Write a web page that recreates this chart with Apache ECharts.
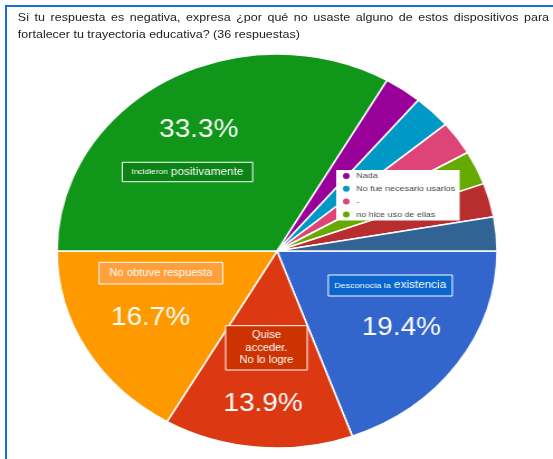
<!DOCTYPE html>
<html><head><meta charset="utf-8">
<script src="https://cdn.jsdelivr.net/npm/echarts@6/dist/echarts.min.js"></script>
<style>
html,body{margin:0;padding:0;background:#fff;width:553px;height:459px;overflow:hidden;}
#frame{position:absolute;left:5px;top:5px;width:560px;height:470px;border-left:2px solid #1a6fd6;border-top:2px solid #1a6fd6;}
#wrap{position:absolute;left:0;top:0;width:495px;height:459px;transform:scaleX(1.117);transform-origin:0 0;}
#chart{position:absolute;left:0;top:0;width:495px;height:459px;}
#title{position:absolute;left:16px;top:8.5px;width:475.5px;font:11.2px/17px 'Liberation Sans',Arial,sans-serif;color:#222;}
#t1{text-align:justify;text-align-last:justify;white-space:nowrap;}
</style></head><body>
<div id="frame"></div>
<div id="wrap"><div id="chart"></div>
<div id="title"><div id="t1"></div><div id="t2"></div></div></div>
<script>
const titleLines = ['Si tu respuesta es negativa, expresa ¿por qué no usaste alguno de estos dispositivos para',
                    'fortalecer tu trayectoria educativa? (36 respuestas)'];
const categories = ['Desconocía la existencia','Quise acceder. No lo logre','No obtuve respuesta',
  'Incidieron positivamente','Nada','No fue necesario usarlos','-','no hice uso de ellas','Otro motivo','Otra respuesta'];
const values = [7,5,6,12,1,1,1,1,1,1];
const legendItems = ['Nada','No fue necesario usarlos','-','no hice uso de ellas'];
const palette = ['#3366cc','#dc3912','#ff9900','#109618','#990099','#0099c6','#dd4477','#66aa00','#b82e2e','#316395'];

// title
document.getElementById('t1').textContent = titleLines[0];
document.getElementById('t2').textContent = titleLines[1];

const total = values.reduce((a,b)=>a+b,0);
const pct = i => (values[i]/total*100).toFixed(1) + '%';
const FONT = "'Liberation Sans', Arial, sans-serif";

function pctText(i, x, y){
  return {type:'text', x:x, y:y, z:100, silent:true,
    style:{text:pct(i), fill:'#fff', fontSize:25, fontFamily:FONT, align:'center', verticalAlign:'middle'}};
}
function box(x,y,w,h,fill,text,rich){
  return [
    {type:'rect', z:100, silent:true, shape:{x:x,y:y,width:w,height:h}, style:{fill:fill, stroke:'#fff', lineWidth:1}},
    {type:'text', z:101, silent:true, x:x+w/2, y:y+h/2,
      style:{text:text, fill:'#fff', fontSize:10, fontFamily:FONT, align:'center', verticalAlign:'middle', lineHeight:12.5, rich:rich}}
  ];
}
const words = s => s.split(' ');
const c0 = words(categories[0]), c1 = words(categories[1]), c3 = words(categories[3]);

const graphics = [].concat(
  box(109.5,162.3,116.7,19.4,'#0b8214', '{s|'+c3[0]+'} {l|'+c3[1]+'}',
      {s:{fontSize:7.5,fill:'#fff',fontFamily:FONT}, l:{fontSize:10.5,fill:'#fff',fontFamily:FONT}}),
  box(88.6,262.3,110.8,21.7,'#ffa03c', categories[2], null),
  box(293.9,275,111,21,'#0a66cc', '{s|'+c0[0]+' '+c0[1]+'} {l|'+c0[2]+'}',
      {s:{fontSize:8,fill:'#fff',fontFamily:FONT}, l:{fontSize:10.5,fill:'#fff',fontFamily:FONT}}),
  box(202,325.7,73,44.3,'#cc3300', c1[0]+'\n'+c1[1]+'\n'+c1.slice(2).join(' '), null),
  [pctText(3,178,130.5), pctText(2,134.7,318), pctText(1,235.5,404), pctText(0,359.4,328.5)]
);

const chart = echarts.init(document.getElementById('chart'));
chart.setOption({
  animation:false,
  color: palette,
  legend:{data:legendItems, orient:'vertical', left:301, top:170, icon:'circle',
    itemWidth:8, itemHeight:8, itemGap:2.8, backgroundColor:'#fff', padding:[1,4,1,4],
    selectedMode:false, z:10,
    textStyle:{fontSize:8, lineHeight:10, color:'#444', fontFamily:FONT}},
  series:[{type:'pie', center:[248,251], radius:197, startAngle:0, clockwise:true,
    data: categories.map((n,i)=>({name:n, value:values[i]})),
    label:{show:false}, labelLine:{show:false},
    itemStyle:{borderColor:'#fff', borderWidth:1.5},
    emphasis:{disabled:true}}],
  graphic: graphics
});
</script>
</body></html>
